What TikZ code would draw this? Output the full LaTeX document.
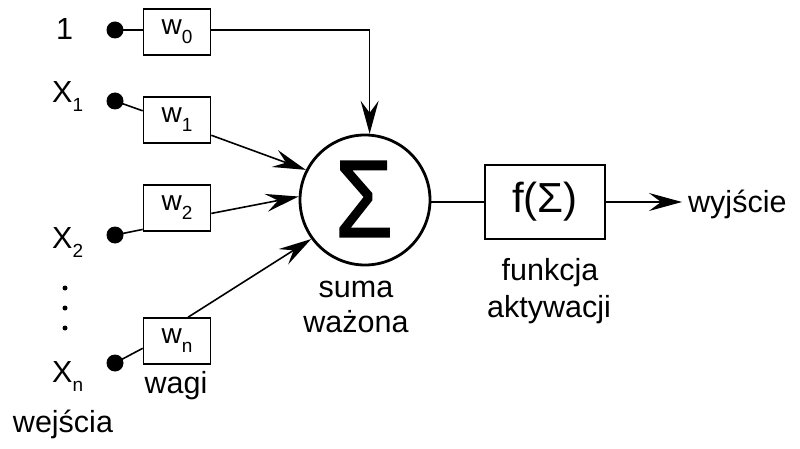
\documentclass[tikz,border=0pt]{standalone}
\usepackage{fontspec}
\setmainfont{Liberation Sans}
\newfontfamily\sigfont[FakeBold=1.6]{Liberation Sans}
\usetikzlibrary{arrows.meta}
\newcommand\sbs[1]{\raisebox{-9pt}{\fontsize{19}{19}\selectfont #1}}
\begin{document}
\begin{tikzpicture}[x=1pt,y=-1pt,
  wbox/.style={draw, line width=1.6pt, minimum width=67pt, minimum height=46pt, inner sep=0pt, font=\fontsize{28}{28}\selectfont},
  dot/.style={circle, fill, inner sep=0pt, minimum size=17pt},
  smalldot/.style={circle, fill, inner sep=0pt, minimum size=5pt},
  lab/.style={inner sep=0pt, font=\fontsize{30.5}{30.5}\selectfont},
  conn/.style={line width=1.6pt},
  arr/.style={conn, -{Stealth[length=33pt,width=18pt,inset=12pt]}}]
\useasboundingbox (0,0) rectangle (800,449);
% inputs
\node[lab, anchor=base west] (t0) at (56,40) {1};
\node[lab, anchor=base west] (t1) at (52,103) {X\sbs{1}};
\node[lab, anchor=base west] (t2) at (52,248) {X\sbs{2}};
\node[lab, anchor=base west] (tn) at (52,382) {X\sbs{n}};
\node[smalldot] (e1) at (65,288) {};
\node[smalldot] (e2) at (65,308) {};
\node[smalldot] (e3) at (65,328) {};
\node[dot] (d0) at (115,30) {};
\node[dot] (d1) at (115,101) {};
\node[dot] (d2) at (115,235) {};
\node[dot] (dn) at (115,363) {};
% weights
\node[wbox] (w0) at (177,32) {w\sbs{0}};
\node[wbox] (w1) at (177,120) {w\sbs{1}};
\node[wbox] (w2) at (177,208) {w\sbs{2}};
\node[wbox] (wn) at (177,341) {w\sbs{n}};
% sum
\node[circle, draw, line width=2.8pt, minimum size=130pt, inner sep=0pt] (c) at (365,200) {};
\node[inner sep=0pt, font=\sigfont\fontsize{98}{98}\selectfont] (sig) at (364,199) {\scalebox{0.95}[1.12]{Σ}};
% activation
\node[draw, line width=1.6pt, minimum width=120pt, minimum height=74pt, inner sep=0pt, font=\fontsize{42}{42}\selectfont] (f) at (545,202) {f(Σ)};
\node[lab, anchor=base west] (out) at (688,212) {wyjście};
% labels
\node[lab, anchor=base] (lw) at (176,393) {wagi};
\node[lab, anchor=base] (lin) at (63,432) {wejścia};
\node[lab, anchor=base] (ls1) at (356,297) {suma};
\node[lab, anchor=base] (ls2) at (356,332) {ważona};
\node[lab, anchor=base] (lf1) at (550,280) {funkcja};
\node[lab, anchor=base] (lf2) at (549,317) {aktywacji};
% connectors
\draw[conn] (d0.center) -- (d0.center -| w0.west);
\draw[conn] (d1.center) -- (w1.165);
\draw[conn] (d2.center) -- (w2.212);
\draw[conn] (dn.center) -- (wn.192);
\draw[arr] (w0.east |- d0) -| (c.86);
\draw[arr] (w1.336) -- (c.153);
\draw[arr] (w2.351) -- (c.177);
\draw[arr] (wn.65) -- (c.216);
\draw[conn] (c.east |- f.west) -- (f.west);
\draw[arr, shorten >=6pt] (f.east) -- (out.west |- f.east);
\end{tikzpicture}
\end{document}
